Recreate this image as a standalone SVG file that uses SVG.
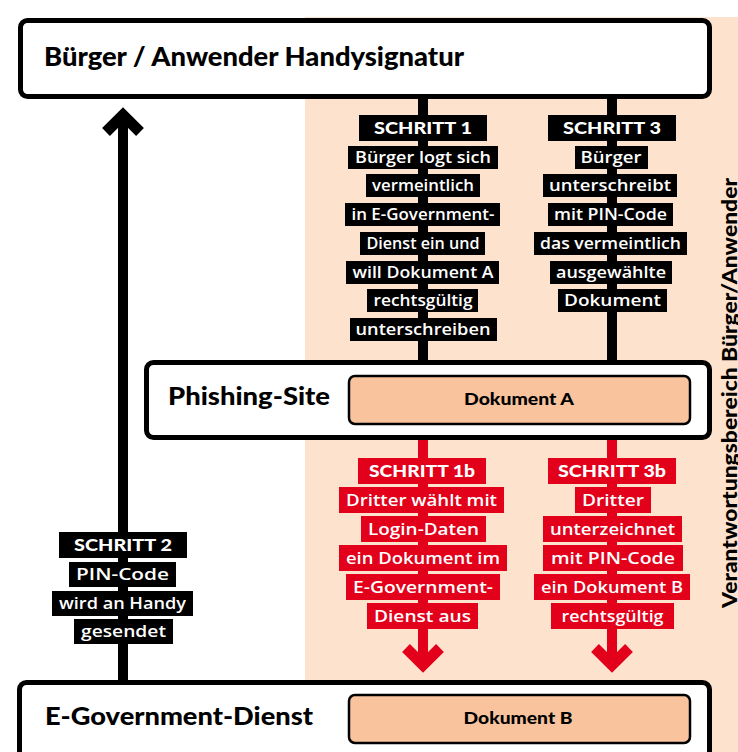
<svg xmlns="http://www.w3.org/2000/svg" width="738" height="752" viewBox="0 0 738 752">
<style>
.box{fill:#fff;stroke:#000;stroke-width:5}
.doc{fill:#f9c39d;stroke:#000;stroke-width:2.5}
.title{font-family:Lato,"Open Sans","Liberation Sans",sans-serif;font-weight:900;fill:#000}
.doct{font-family:Lato,"Open Sans","Liberation Sans",sans-serif;font-weight:900;font-size:17px;fill:#000;text-anchor:middle}
.lb{fill:#000}
.lr{fill:#e2001a}
.t{font-family:"Open Sans",Lato,"Liberation Sans",sans-serif;font-weight:600;font-size:17px;fill:#fff;text-anchor:middle}
.h{font-family:Lato,"Open Sans","Liberation Sans",sans-serif;font-weight:900;font-size:16px;fill:#fff;text-anchor:middle}
.kb{stroke:#000;stroke-width:10;fill:none}
.kr{stroke:#e2001a;stroke-width:10;fill:none}
.cb{stroke:#000;stroke-width:11;fill:none;stroke-linejoin:miter}
.cr{stroke:#e2001a;stroke-width:11;fill:none;stroke-linejoin:miter}
</style>
<rect id="area" x="305" y="17" width="433" height="735" fill="#fde2cd"/>
<text class="title" font-size="20" transform="translate(737,608) rotate(-90)" textLength="430" lengthAdjust="spacingAndGlyphs">Verantwortungsbereich Bürger/Anwender</text>
<g id="connectors">
<line class="kb" x1="423" y1="97" x2="423" y2="362"/>
<line class="kb" x1="612" y1="97" x2="612" y2="362"/>
<line class="kr" x1="423" y1="438" x2="423" y2="664"/>
<line class="kr" x1="612" y1="438" x2="612" y2="664"/>
<polyline class="cr" points="406,648 423,665 440,648"/>
<polyline class="cr" points="595,648 612,665 629,648"/>
<line class="kb" x1="123" y1="682" x2="123" y2="118"/>
<polyline class="cb" points="106,132 123,115 140,132"/>
</g>
<g id="node-buerger">
<rect class="box" x="20.5" y="20.5" width="689" height="76" rx="7"/>
<text class="title" x="44" y="66" font-size="26" textLength="420" lengthAdjust="spacingAndGlyphs">Bürger / Anwender Handysignatur</text>
</g>
<g id="node-phishing">
<rect class="box" x="146.5" y="362.5" width="563" height="75" rx="7"/>
<text class="title" x="168" y="405" font-size="24" textLength="162" lengthAdjust="spacingAndGlyphs">Phishing-Site</text>
</g>
<g id="node-dokA">
<rect class="doc" x="349" y="376" width="341" height="48" rx="6"/>
<text class="doct" x="519" y="405" textLength="110" lengthAdjust="spacingAndGlyphs">Dokument A</text>
</g>
<g id="node-egov">
<rect class="box" x="19.5" y="682.5" width="690" height="100" rx="7"/>
<text class="title" x="45" y="725" font-size="24" textLength="268" lengthAdjust="spacingAndGlyphs">E-Government-Dienst</text>
</g>
<g id="node-dokB">
<rect class="doc" x="349" y="695" width="341" height="48" rx="6"/>
<text class="doct" x="518" y="724" textLength="109" lengthAdjust="spacingAndGlyphs">Dokument B</text>
</g>
<g id="label-schritt1">
<rect class="lb" x="359" y="115" width="128" height="26"/>
<text class="h" x="423" y="134" textLength="98" lengthAdjust="spacingAndGlyphs">SCHRITT 1</text>
<rect class="lb" x="348" y="146" width="150" height="23"/>
<text class="t" x="423" y="163" textLength="136" lengthAdjust="spacingAndGlyphs">Bürger logt sich</text>
<rect class="lb" x="366" y="174" width="114" height="23"/>
<text class="t" x="423" y="191" textLength="102" lengthAdjust="spacingAndGlyphs">vermeintlich</text>
<rect class="lb" x="345" y="203" width="155" height="23"/>
<text class="t" x="423" y="220" textLength="143" lengthAdjust="spacingAndGlyphs">in E-Government-</text>
<rect class="lb" x="360" y="232" width="125" height="23"/>
<text class="t" x="423" y="249" textLength="113" lengthAdjust="spacingAndGlyphs">Dienst ein und</text>
<rect class="lb" x="346" y="261" width="153" height="23"/>
<text class="t" x="423" y="278" textLength="141" lengthAdjust="spacingAndGlyphs">will Dokument A</text>
<rect class="lb" x="367" y="289" width="111" height="23"/>
<text class="t" x="423" y="306" textLength="99" lengthAdjust="spacingAndGlyphs">rechtsgültig</text>
<rect class="lb" x="350" y="318" width="147" height="23"/>
<text class="t" x="423" y="335" textLength="135" lengthAdjust="spacingAndGlyphs">unterschreiben</text>
</g>
<g id="label-schritt3">
<rect class="lb" x="548" y="115" width="128" height="26"/>
<text class="h" x="612" y="134" textLength="98" lengthAdjust="spacingAndGlyphs">SCHRITT 3</text>
<rect class="lb" x="575" y="146" width="73" height="23"/>
<text class="t" x="611" y="163" textLength="61" lengthAdjust="spacingAndGlyphs">Bürger</text>
<rect class="lb" x="543" y="174" width="134" height="23"/>
<text class="t" x="610" y="191" textLength="122" lengthAdjust="spacingAndGlyphs">unterschreibt</text>
<rect class="lb" x="548" y="203" width="125" height="23"/>
<text class="t" x="610.5" y="220" textLength="113" lengthAdjust="spacingAndGlyphs">mit PIN-Code</text>
<rect class="lb" x="534" y="232" width="153" height="23"/>
<text class="t" x="610.5" y="249" textLength="141" lengthAdjust="spacingAndGlyphs">das vermeintlich</text>
<rect class="lb" x="550" y="261" width="122" height="23"/>
<text class="t" x="611" y="278" textLength="110" lengthAdjust="spacingAndGlyphs">ausgewählte</text>
<rect class="lb" x="558" y="289" width="109" height="23"/>
<text class="t" x="612.5" y="306" textLength="97" lengthAdjust="spacingAndGlyphs">Dokument</text>
</g>
<g id="label-schritt1b">
<rect class="lr" x="358" y="458" width="128" height="26"/>
<text class="h" x="422" y="477" textLength="106" lengthAdjust="spacingAndGlyphs">SCHRITT 1b</text>
<rect class="lr" x="339" y="487" width="165" height="26"/>
<text class="t" x="421.5" y="506" textLength="151" lengthAdjust="spacingAndGlyphs">Dritter wählt mit</text>
<rect class="lr" x="361" y="516" width="125" height="26"/>
<text class="t" x="423.5" y="535" textLength="111" lengthAdjust="spacingAndGlyphs">Login-Daten</text>
<rect class="lr" x="339" y="545" width="168" height="26"/>
<text class="t" x="423" y="564" textLength="154" lengthAdjust="spacingAndGlyphs">ein Dokument im</text>
<rect class="lr" x="346" y="574" width="154" height="26"/>
<text class="t" x="423" y="593" textLength="140" lengthAdjust="spacingAndGlyphs">E-Government-</text>
<rect class="lr" x="367" y="603" width="111" height="26"/>
<text class="t" x="422.5" y="622" textLength="97" lengthAdjust="spacingAndGlyphs">Dienst aus</text>
</g>
<g id="label-schritt3b">
<rect class="lr" x="548" y="458" width="128" height="26"/>
<text class="h" x="612" y="477" textLength="108" lengthAdjust="spacingAndGlyphs">SCHRITT 3b</text>
<rect class="lr" x="575" y="487" width="76" height="26"/>
<text class="t" x="613" y="506" textLength="62" lengthAdjust="spacingAndGlyphs">Dritter</text>
<rect class="lr" x="543" y="516" width="139" height="26"/>
<text class="t" x="612.5" y="535" textLength="125" lengthAdjust="spacingAndGlyphs">unterzeichnet</text>
<rect class="lr" x="543" y="545" width="140" height="26"/>
<text class="t" x="613" y="564" textLength="124" lengthAdjust="spacingAndGlyphs">mit PIN-Code</text>
<rect class="lr" x="534" y="574" width="156" height="26"/>
<text class="t" x="612" y="593" textLength="142" lengthAdjust="spacingAndGlyphs">ein Dokument B</text>
<rect class="lr" x="551" y="603" width="123" height="26"/>
<text class="t" x="612.5" y="622" textLength="102" lengthAdjust="spacingAndGlyphs">rechtsgültig</text>
</g>
<g id="label-schritt2">
<rect class="lb" x="59" y="532" width="128" height="26"/>
<text class="h" x="123" y="551" textLength="98" lengthAdjust="spacingAndGlyphs">SCHRITT 2</text>
<rect class="lb" x="69" y="562" width="107" height="25"/>
<text class="t" x="122.5" y="580" textLength="93" lengthAdjust="spacingAndGlyphs">PIN-Code</text>
<rect class="lb" x="52" y="591" width="141" height="25"/>
<text class="t" x="122.5" y="609" textLength="127" lengthAdjust="spacingAndGlyphs">wird an Handy</text>
<rect class="lb" x="74" y="619" width="99" height="25"/>
<text class="t" x="123.5" y="637" textLength="85" lengthAdjust="spacingAndGlyphs">gesendet</text>
</g>
</svg>
